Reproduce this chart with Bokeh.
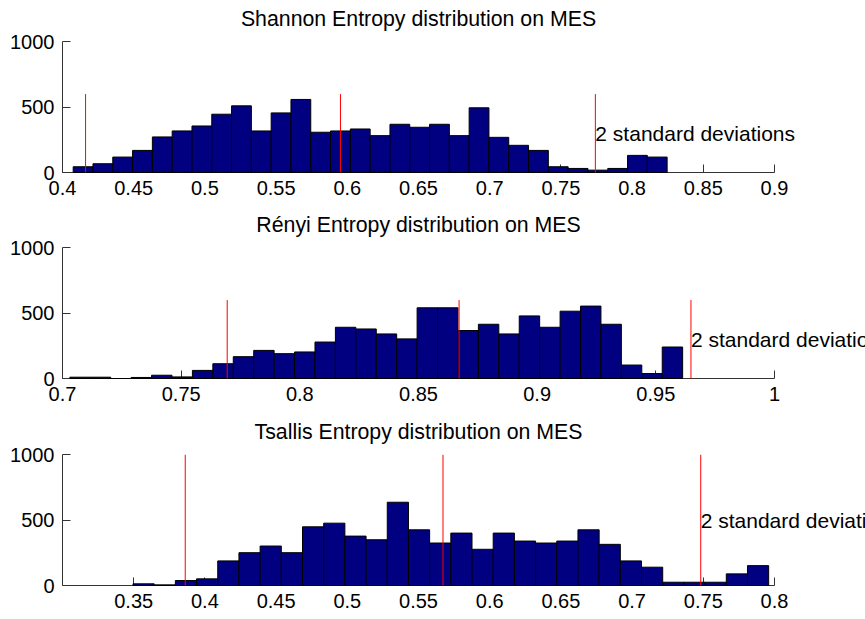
import numpy as np
from bokeh.plotting import figure
from bokeh.layouts import column
from bokeh.models import Range1d, FixedTicker
from bokeh.core.properties import value
from bokeh.embed import file_html
from bokeh.resources import INLINE

# ---------------- data ----------------
shannon_counts = [44, 67, 118, 169, 272, 318, 356, 446, 510, 318,
                  456, 559, 308, 318, 333, 282, 369, 346, 369, 282,
                  495, 269, 208, 169, 44, 31, 18, 31, 131, 118]
shannon_min, shannon_max = 0.4075, 0.8246
shannon_mean, shannon_2sd = 0.5952, 0.1790

renyi_counts = [10, 10, 0, 8, 25, 12, 62, 113, 167, 215,
                190, 203, 279, 392, 379, 341, 303, 541, 541, 367,
                415, 341, 479, 392, 515, 554, 415, 103, 38, 241]
renyi_min, renyi_max = 0.7031, 0.9613
renyi_mean, renyi_2sd = 0.8671, 0.0977

tsallis_counts = [13, 5, 38, 51, 188, 251, 302, 251, 449, 477,
                  378, 350, 637, 426, 325, 401, 277, 401, 340, 325,
                  340, 426, 315, 188, 140, 25, 25, 25, 89, 152]
tsallis_min, tsallis_max = 0.3495, 0.7959
tsallis_mean, tsallis_2sd = 0.5672, 0.1810

line_tops = {"shannon": [600, 600, 600], "renyi": [600, 600, 600], "tsallis": [1000, 1000, 1000]}
label_y = {"shannon": 300, "renyi": 300, "tsallis": 500}

shannon_ticks = [0.4, 0.45, 0.5, 0.55, 0.6, 0.65, 0.7, 0.75, 0.8, 0.85, 0.9]
shannon_tick_labels = ["0.4", "0.45", "0.5", "0.55", "0.6", "0.65", "0.7", "0.75", "0.8", "0.85", "0.9"]
renyi_ticks = [0.7, 0.75, 0.8, 0.85, 0.9, 0.95, 1.0]
renyi_tick_labels = ["0.7", "0.75", "0.8", "0.85", "0.9", "0.95", "1"]
tsallis_ticks = [0.35, 0.4, 0.45, 0.5, 0.55, 0.6, 0.65, 0.7, 0.75, 0.8]
tsallis_tick_labels = ["0.35", "0.4", "0.45", "0.5", "0.55", "0.6", "0.65", "0.7", "0.75", "0.8"]
y_ticks = [0, 500, 1000]
y_tick_labels = ["0", "500", "1000"]

titles = ["Shannon Entropy distribution on MES",
          "Rényi Entropy distribution on MES",
          "Tsallis Entropy distribution on MES"]
annotation = "2 standard deviations"

FONT = "Liberation Sans"
W = 865
LEFT = 62
AXIS_PX = 712
FRAME_H = 172
Y_TOP = 1316


def panel(title, counts, cmin, cmax, mean, two_sd, tops, ly, xlo, xhi,
          ticks, tick_labels, height):
    px_per_unit = AXIS_PX / (xhi - xlo)
    x_end = xlo + (W - LEFT) / px_per_unit
    p = figure(width=W, height=height,
               x_range=Range1d(xlo, x_end), y_range=Range1d(0, Y_TOP),
               output_backend="svg", toolbar_location=None,
               min_border_left=LEFT, min_border_right=0,
               min_border_top=0, min_border_bottom=height - FRAME_H)
    p.outline_line_color = None
    p.xgrid.visible = False
    p.ygrid.visible = False
    p.background_fill_color = "white"
    p.border_fill_color = "white"

    edges = np.linspace(cmin, cmax, len(counts) + 1)
    r = p.quad(left=edges[:-1], right=edges[1:], bottom=0, top=counts,
               fill_color="#000080", line_color="black", line_width=1)
    r.level = "annotation"

    xs = [mean - two_sd, mean, mean + two_sd]
    r = p.segment(x0=xs, y0=[0, 0, 0], x1=xs, y1=tops, line_color="red", line_width=1)
    r.level = "annotation"

    r = p.text(x=[mean + two_sd], y=[ly], text=[annotation],
               text_font=value(FONT), text_font_size="21px",
               text_align="left", text_baseline="middle", text_color="black")
    r.level = "annotation"

    r = p.text(x=[(xlo + xhi) / 2], y=[1176], text=[title],
               text_font=value(FONT), text_font_size="21.3px",
               text_align="center", text_baseline="alphabetic", text_color="black")
    r.level = "annotation"

    for ax in (p.xaxis[0], p.yaxis[0]):
        ax.major_tick_in = 8
        ax.major_tick_out = 0
        ax.minor_tick_line_color = None
        ax.axis_line_color = "#333333"
        ax.major_tick_line_color = "#333333"
        ax.major_label_text_font = FONT
        ax.major_label_text_font_size = "20px"
        ax.major_label_text_color = "black"
        ax.major_label_standoff = 8

    p.xaxis.ticker = FixedTicker(ticks=ticks)
    p.xaxis.major_label_overrides = {t: s for t, s in zip(ticks, tick_labels)}
    p.xaxis.bounds = (xlo, xhi)
    p.yaxis.ticker = FixedTicker(ticks=y_ticks)
    p.yaxis.major_label_overrides = {t: s for t, s in zip(y_ticks, y_tick_labels)}
    p.yaxis.bounds = (0, 1000)
    return p


p1 = panel(titles[0], shannon_counts, shannon_min, shannon_max, shannon_mean, shannon_2sd,
           line_tops["shannon"], label_y["shannon"], 0.4, 0.9,
           shannon_ticks, shannon_tick_labels, 206)
p2 = panel(titles[1], renyi_counts, renyi_min, renyi_max, renyi_mean, renyi_2sd,
           line_tops["renyi"], label_y["renyi"], 0.7, 1.0,
           renyi_ticks, renyi_tick_labels, 207)
p3 = panel(titles[2], tsallis_counts, tsallis_min, tsallis_max, tsallis_mean, tsallis_2sd,
           line_tops["tsallis"], label_y["tsallis"], 0.3, 0.8,
           tsallis_ticks, tsallis_tick_labels, 206)

layout = column(p1, p2, p3, spacing=0)
open("out.html", "w").write(file_html(layout, INLINE))
